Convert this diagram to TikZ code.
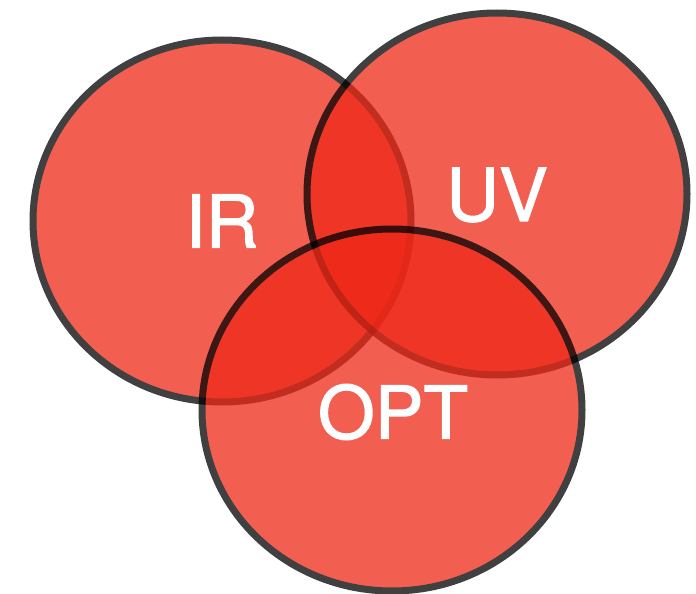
\documentclass[tikz,border=0pt]{standalone}
\usepackage{fontspec}
\setmainfont{TeX Gyre Heros}
\newfontfamily\setfont[FakeBold=1.6]{TeX Gyre Heros}
\definecolor{setred}{RGB}{238,40,22}
\begin{document}
\begin{tikzpicture}[x=1pt,y=-1pt,
  setshape/.style={fill=setred,draw=black,line width=7pt},
  setlabel/.style={text=white,font=\setfont\fontsize{73}{73}\selectfont,inner sep=0pt,anchor=center}]
\useasboundingbox (0,0) rectangle (696,594);
\begin{scope}[transparency group,opacity=0.75]
  \draw[setshape] (222,221) ellipse [x radius=189,y radius=181];
\end{scope}
\begin{scope}[transparency group,opacity=0.75]
  \draw[setshape] (497,194) ellipse [x radius=190,y radius=181];
\end{scope}
\begin{scope}[transparency group,opacity=0.75]
  \draw[setshape] (392,410) ellipse [x radius=190,y radius=181];
\end{scope}
\node[setlabel] (ir) at (222,221) {IR};
\node[setlabel] (uv) at (497,195) {UV};
\node[setlabel] (opt) at (393,412) {OPT};
\end{tikzpicture}
\end{document}
